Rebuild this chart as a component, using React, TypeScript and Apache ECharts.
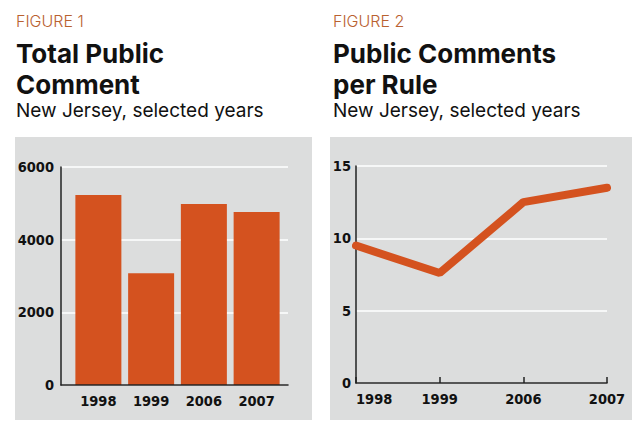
import React, { useEffect, useRef } from "react";
import * as echarts from "echarts";

const categories = ["1998", "1999", "2006", "2007"];
const totalComments = [5230, 3075, 4980, 4760];
const commentsPerRule = [9.5, 7.6, 12.5, 13.5];
const totalAxis = { min: 0, max: 6000, interval: 2000 };
const perRuleAxis = { min: 0, max: 15, interval: 5 };

const ORANGE = "#D4521F";
const GRAY = "#DCDDDD";
const AXIS_FONT = "'Liberation Sans Narrow', 'DejaVu Sans Condensed', sans-serif";
const TITLE_FONT = "Inter, 'Open Sans', sans-serif";

export default function App() {
  const ref = useRef<HTMLDivElement>(null);
  useEffect(() => {
    if (!ref.current) return;
    const chart = echarts.init(ref.current, undefined, { renderer: "svg" });
    const axisLabel = {
      fontFamily: AXIS_FONT,
      fontSize: 14.5,
      fontWeight: "bold" as const,
      color: "#111",
      formatter: (v: string | number) => String(v),
    };
    const axisLineStyle = { color: "#222", width: 1.5 };
    const text = (x: number, y: number, t: string, size: number, weight: number | string, fill: string) => ({
      type: "text",
      x,
      y,
      z: 10,
      style: {
        text: t,
        fill,
        fontFamily: TITLE_FONT,
        fontSize: size,
        fontWeight: weight,
        verticalAlign: "middle",
        align: "left",
      },
    });
    chart.setOption({
      animation: false,
      backgroundColor: "#fff",
      graphic: {
        elements: [
          { type: "rect", z: -1, shape: { x: 15, y: 137, width: 297, height: 283 }, style: { fill: GRAY } },
          { type: "rect", z: -1, shape: { x: 330, y: 137, width: 302, height: 283 }, style: { fill: GRAY } },
          text(16, 21, "FIGURE 1", 16, 300, "#B9612F"),
          text(16, 53, "Total Public", 26, 700, "#111"),
          text(16, 84, "Comment", 26, 700, "#111"),
          text(16, 110, "New Jersey, selected years", 19, 400, "#111"),
          text(333, 21, "FIGURE 2", 16, 300, "#B9612F"),
          text(333, 53, "Public Comments", 26, 700, "#111"),
          text(333, 84, "per Rule", 26, 700, "#111"),
          text(333, 110, "New Jersey, selected years", 19, 400, "#111"),
        ],
      },
      grid: [
        { left: 61, right: 355, top: 167, bottom: 47 },
        { left: 72, right: 360, top: 167, bottom: 47 },
        { left: 356, right: 36, top: 166, bottom: 49 },
      ],
      xAxis: [
        {
          gridIndex: 0,
          type: "category",
          data: categories,
          z: 5,
          axisLine: { show: true, lineStyle: axisLineStyle },
          axisTick: { show: false },
          axisLabel: { show: false },
        },
        {
          gridIndex: 1,
          type: "category",
          data: categories,
          axisLine: { show: false },
          axisTick: { show: false },
          axisLabel: { ...axisLabel, margin: 8 },
        },
        {
          gridIndex: 2,
          type: "category",
          boundaryGap: false,
          data: categories,
          axisLine: { show: true, lineStyle: axisLineStyle },
          axisTick: { show: true, inside: true, length: 6, lineStyle: axisLineStyle },
          axisLabel: { ...axisLabel, margin: 8, alignMinLabel: "left" },
        },
      ],
      yAxis: [
        {
          gridIndex: 0,
          type: "value",
          ...totalAxis,
          axisLine: { show: true, lineStyle: axisLineStyle },
          axisTick: { show: false },
          splitLine: { show: true, lineStyle: { color: "#fff", width: 1.5 } },
          axisLabel: { ...axisLabel, margin: 7 },
        },
        {
          gridIndex: 1,
          type: "value",
          ...totalAxis,
          show: false,
        },
        {
          gridIndex: 2,
          type: "value",
          ...perRuleAxis,
          axisLine: { show: true, lineStyle: axisLineStyle },
          axisTick: { show: false },
          splitLine: { show: true, lineStyle: { color: "#fff", width: 1.5 } },
          axisLabel: { ...axisLabel, margin: 5 },
        },
      ],
      series: [
        {
          type: "bar",
          xAxisIndex: 1,
          yAxisIndex: 1,
          data: totalComments,
          barWidth: 46,
          itemStyle: { color: ORANGE },
        },
        {
          type: "line",
          xAxisIndex: 2,
          yAxisIndex: 2,
          data: commentsPerRule,
          symbol: "none",
          clip: false,
          lineStyle: { color: ORANGE, width: 8, cap: "round" },
        },
      ],
    });
    return () => chart.dispose();
  }, []);
  return <div ref={ref} style={{ position: "absolute", left: 0, top: 0, width: 643, height: 432 }} />;
}
